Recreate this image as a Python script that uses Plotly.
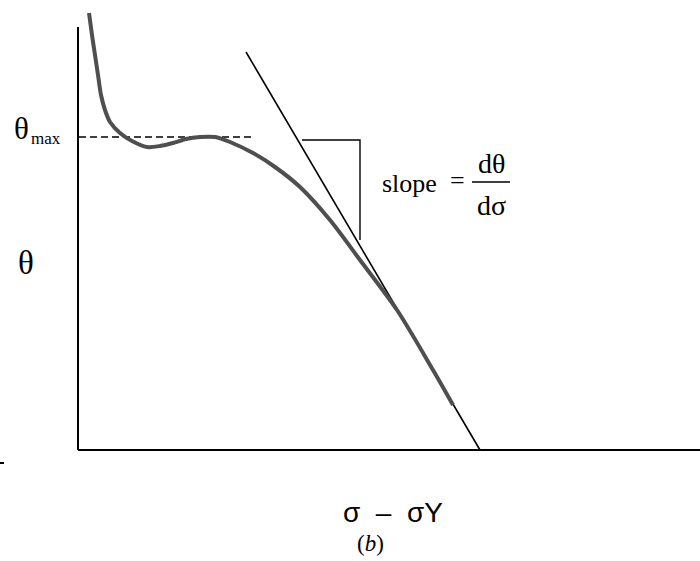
import plotly.graph_objects as go

# Data (abstract units: sigma - sigmaY on x, theta on y)
curve_x = [0.11, 0.14, 0.17, 0.20, 0.23, 0.27, 0.32, 0.42, 0.54, 0.69, 0.82, 0.95,
           1.08, 1.22, 1.37, 1.52, 1.75, 1.97, 2.22, 2.52, 2.82, 3.19, 3.55, 3.75]
curve_y = [4.37, 4.15, 3.95, 3.75, 3.55, 3.40, 3.28, 3.17, 3.09, 3.03, 3.04, 3.07,
           3.11, 3.13, 3.13, 3.08, 2.97, 2.83, 2.63, 2.30, 1.90, 1.40, 0.80, 0.45]
tangent_x = [1.68, 4.02]
tangent_y = [3.98, 0.0]
theta_max = 3.13
dash_x = [0.01, 1.77]
tri_x = [2.24, 2.82, 2.82]
tri_y = [3.10, 3.10, 2.10]
x_axis_end = 6.22
y_axis_end = 4.23

fig = go.Figure()

def line(x, y, color="black", width=1.5, dash=None, shape="linear"):
    fig.add_trace(go.Scatter(x=x, y=y, mode="lines",
                             line=dict(color=color, width=width, dash=dash,
                                       shape=shape, smoothing=0.8),
                             hoverinfo="skip", showlegend=False))

# axes
line([0, 0], [0, y_axis_end], width=2)
line([0, x_axis_end], [0, 0], width=2)
line([-0.78, -0.74], [-0.13, -0.13], width=2)

# theta max dashed
line(dash_x, [theta_max, theta_max], width=1.5, dash="7px,4px")

# tangent and triangle
line(tangent_x, tangent_y, width=1.6)
line(tri_x, tri_y, color="black", width=1.4)

# curve
line(curve_x, curve_y, color="#4f4f4f", width=4, shape="spline")

# fraction bar
line([3.94, 4.32], [2.68, 2.68], width=1.4)

serif = "Liberation Serif"
sans = "Liberation Sans"
ann = [
    dict(x=-0.52, y=1.87, text="θ", font=dict(family=serif, size=33)),
    dict(x=-0.57, y=3.22, text="θ", font=dict(family=serif, size=31)),
    dict(x=-0.32, y=3.12, text="max", font=dict(family=serif, size=17)),
    dict(x=3.02, y=2.67, text="slope", xanchor="left", font=dict(family=serif, size=26)),
    dict(x=3.79, y=2.70, text="=", font=dict(family=serif, size=26)),
    dict(x=4.13, y=2.87, text="dθ", font=dict(family=serif, size=28)),
    dict(x=4.13, y=2.45, text="dσ", font=dict(family=serif, size=28)),
    dict(x=3.15, y=-0.62, text="σ  –  σY", font=dict(family=sans, size=28)),
    dict(x=2.92, y=-0.93, text="(<i>b</i>)", font=dict(family=serif, size=23)),
]
for a in ann:
    a.setdefault("xanchor", "center")
    fig.add_annotation(xref="x", yref="y", yanchor="middle", showarrow=False,
                       font_color="black", **a)

fig.update_layout(
    width=700, height=561,
    margin=dict(l=0, r=0, t=0, b=0),
    paper_bgcolor="white", plot_bgcolor="white",
    xaxis=dict(range=[-0.78, 6.22], visible=False),
    yaxis=dict(range=[-1.11, 4.50], visible=False),
)
fig.write_html("out.html")
